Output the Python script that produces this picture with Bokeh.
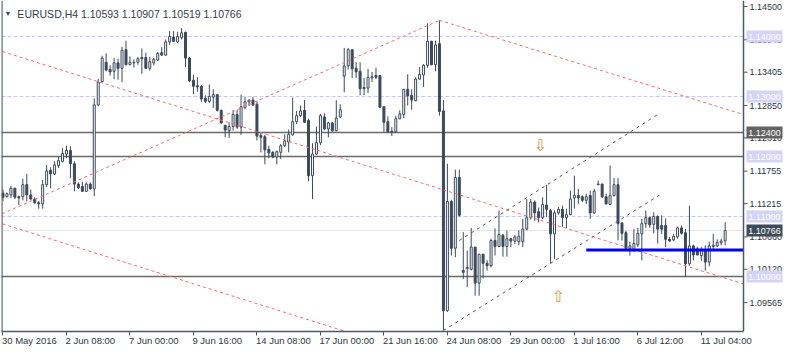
from bokeh.plotting import figure
from bokeh.models import Range1d, FixedTicker, Span, Label, ColumnDataSource
from bokeh.embed import file_html
from bokeh.resources import INLINE
from bokeh.core.properties import value

# ---------------- data (EURUSD H4, bar index 0 = 30 May 2016 16:00) ----------------
opens = [1.1139,1.1133,1.1136,1.1147,1.1133,1.1133,1.1153,1.1136,1.1129,1.1123,
         1.1121,1.1153,1.1177,1.1171,1.1185,1.1192,1.1204,1.1210,1.1188,1.1154,
         1.1150,1.1142,1.1154,1.1146,1.1286,1.1325,1.1357,1.1345,1.1342,1.1356,
         1.1347,1.1378,1.1353,1.1356,1.1357,1.1365,1.1365,1.1347,1.1356,1.1361,
         1.1373,1.1369,1.1391,1.1399,1.1391,1.1398,1.1407,1.1364,1.1327,1.1318,
         1.1317,1.1297,1.1292,1.1299,1.1303,1.1277,1.1252,1.1243,1.1250,1.1270,
         1.1249,1.1282,1.1291,1.1294,1.1287,1.1235,1.1233,1.1212,1.1207,1.1199,
         1.1207,1.1218,1.1224,1.1236,1.1258,1.1268,1.1277,1.1260,1.1168,1.1204,
         1.1223,1.1266,1.1246,1.1256,1.1243,1.1266,1.1334,1.1351,1.1378,1.1347,
         1.1342,1.1315,1.1314,1.1331,1.1335,1.1335,1.1283,1.1258,1.1242,1.1241,
         1.1263,1.1270,1.1312,1.1302,1.1293,1.1329,1.1336,1.1352,1.1392,1.1353,
         1.1388,1.1276,1.0943,1.1125,1.1047,1.1165,1.1010,1.1013,1.1012,1.1049,
         1.0989,1.1037,1.1022,1.1018,1.1060,1.1050,1.1069,1.1050,1.1063,1.1059,
         1.1058,1.1058,1.1079,1.1098,1.1124,1.1108,1.1098,1.1119,1.1110,1.1071,
         1.1106,1.1112,1.1098,1.1103,1.1131,1.1135,1.1133,1.1127,1.1135,1.1106,
         1.1153,1.1154,1.1133,1.1120,1.1135,1.1153,1.1089,1.1073,1.1047,1.1043,
         1.1053,1.1071,1.1088,1.1098,1.1087,1.1100,1.1085,1.1085,1.1062,1.1061,
         1.1066,1.1081,1.1073,1.1021,1.1051,1.1046,1.1035,1.1045,1.1024,1.1050,
         1.1051,1.1056,1.10593]
highs = [1.1145,1.1140,1.1151,1.1148,1.1135,1.1163,1.1171,1.1145,1.1132,1.1126,
         1.1161,1.1186,1.1182,1.1192,1.1199,1.1214,1.1218,1.1217,1.1192,1.1157,
         1.1158,1.1157,1.1157,1.1297,1.1329,1.1368,1.1372,1.1352,1.1364,1.1363,
         1.1383,1.1393,1.1367,1.1362,1.1366,1.1380,1.1373,1.1366,1.1364,1.1374,
         1.1382,1.1395,1.1409,1.1409,1.1408,1.1414,1.1408,1.1366,1.1336,1.1332,
         1.1319,1.1302,1.1320,1.1312,1.1304,1.1278,1.1252,1.1257,1.1277,1.1278,
         1.1303,1.1299,1.1295,1.1299,1.1292,1.1241,1.1236,1.1218,1.1209,1.1210,
         1.1221,1.1237,1.1245,1.1298,1.1276,1.1285,1.1294,1.1263,1.1222,1.1250,
         1.1271,1.1272,1.1258,1.1257,1.1294,1.1287,1.1381,1.1381,1.1378,1.1357,
         1.1357,1.1331,1.1346,1.1341,1.1348,1.1336,1.1283,1.1267,1.1249,1.1268,
         1.1277,1.1312,1.1337,1.1312,1.1332,1.1349,1.1354,1.1422,1.1393,1.1393,
         1.1427,1.1294,1.1188,1.1128,1.1178,1.1178,1.1074,1.1043,1.1081,1.1049,
         1.1038,1.1038,1.1027,1.1063,1.1080,1.1110,1.1071,1.1077,1.1064,1.1069,
         1.1077,1.1096,1.1129,1.1129,1.1127,1.1115,1.1132,1.1153,1.1113,1.1110,
         1.1116,1.1118,1.1113,1.1143,1.1168,1.1146,1.1135,1.1138,1.1143,1.1146,
         1.1160,1.1155,1.1138,1.1185,1.1164,1.1164,1.1091,1.1076,1.1058,1.1079,
         1.1081,1.1096,1.1110,1.1100,1.1107,1.1102,1.1102,1.1097,1.1066,1.1071,
         1.1083,1.1085,1.1079,1.1118,1.1053,1.1050,1.1049,1.1052,1.1058,1.1071,
         1.1062,1.1063,1.10907]
lows = [1.1126,1.1132,1.1131,1.1129,1.1119,1.1127,1.1125,1.1128,1.1121,1.1113,
        1.1113,1.1149,1.1147,1.1169,1.1181,1.1190,1.1197,1.1164,1.1142,1.1146,
        1.1141,1.1141,1.1145,1.1134,1.1284,1.1323,1.1342,1.1335,1.1329,1.1328,
        1.1324,1.1352,1.1352,1.1348,1.1353,1.1338,1.1346,1.1343,1.1352,1.1359,
        1.1368,1.1368,1.1386,1.1391,1.1389,1.1395,1.1349,1.1324,1.1304,1.1308,
        1.1291,1.1289,1.1289,1.1281,1.1275,1.1254,1.1232,1.1231,1.1243,1.1246,
        1.1236,1.1279,1.1284,1.1284,1.1227,1.1207,1.1187,1.1197,1.1197,1.1187,
        1.1196,1.1216,1.1207,1.1235,1.1254,1.1266,1.1256,1.1159,1.1129,1.1203,
        1.1219,1.1244,1.1232,1.1241,1.1242,1.1264,1.1307,1.1345,1.1331,1.1331,
        1.1302,1.1302,1.1306,1.1324,1.1329,1.1281,1.1241,1.1240,1.1234,1.1240,
        1.1262,1.1264,1.1285,1.1278,1.1292,1.1328,1.1316,1.1348,1.1352,1.1342,
        1.1268,1.0910,1.0941,1.1035,1.1032,1.1100,1.0996,1.0982,1.1010,1.0968,
        1.0968,1.0997,1.1010,1.1015,1.1035,1.1049,1.1033,1.1033,1.1049,1.1054,
        1.1052,1.1049,1.1077,1.1095,1.1093,1.1090,1.1096,1.1099,1.1022,1.1029,
        1.1103,1.1083,1.1081,1.1102,1.1113,1.1121,1.1124,1.1121,1.1096,1.1104,
        1.1152,1.1131,1.1120,1.1120,1.1133,1.1060,1.1060,1.1046,1.1035,1.1041,
        1.1049,1.1027,1.1081,1.1081,1.1072,1.1055,1.1071,1.1049,1.1058,1.1059,
        1.1063,1.1070,1.0999,1.1018,1.1027,1.1035,1.1026,1.1010,1.1017,1.1046,
        1.1049,1.1052,1.10519]
closes = [1.1132,1.1138,1.1147,1.1132,1.1131,1.1153,1.1136,1.1129,1.1123,1.1121,
          1.1153,1.1176,1.1171,1.1186,1.1193,1.1205,1.1210,1.1188,1.1154,1.1148,
          1.1142,1.1154,1.1146,1.1286,1.1324,1.1364,1.1344,1.1341,1.1356,1.1347,
          1.1377,1.1353,1.1357,1.1357,1.1363,1.1363,1.1347,1.1358,1.1362,1.1372,
          1.1369,1.1391,1.1400,1.1392,1.1400,1.1406,1.1364,1.1326,1.1317,1.1316,
          1.1296,1.1292,1.1300,1.1303,1.1277,1.1256,1.1244,1.1250,1.1270,1.1249,
          1.1283,1.1291,1.1294,1.1286,1.1234,1.1232,1.1211,1.1206,1.1199,1.1208,
          1.1218,1.1226,1.1237,1.1258,1.1268,1.1276,1.1257,1.1168,1.1204,1.1223,
          1.1268,1.1246,1.1256,1.1243,1.1264,1.1278,1.1351,1.1378,1.1346,1.1341,
          1.1313,1.1313,1.1332,1.1333,1.1332,1.1282,1.1257,1.1241,1.1241,1.1263,
          1.1271,1.1312,1.1301,1.1294,1.1329,1.1337,1.1352,1.1392,1.1353,1.1386,
          1.1275,1.0943,1.1125,1.1047,1.1165,1.1102,1.1007,1.1015,1.1049,1.0989,
          1.1037,1.1022,1.1018,1.1060,1.1050,1.1070,1.1050,1.1063,1.1059,1.1066,
          1.1067,1.1079,1.1098,1.1124,1.1106,1.1098,1.1120,1.1112,1.1071,1.1106,
          1.1112,1.1098,1.1103,1.1129,1.1135,1.1131,1.1127,1.1133,1.1106,1.1142,
          1.1154,1.1133,1.1121,1.1135,1.1153,1.1088,1.1072,1.1047,1.1051,1.1055,
          1.1072,1.1088,1.1098,1.1086,1.1100,1.1079,1.1079,1.1062,1.1059,1.1067,
          1.1081,1.1072,1.1021,1.1051,1.1036,1.1036,1.1045,1.1024,1.1051,1.1052,
          1.1057,1.1059,1.10766]

time_tick_bars = [0, 16, 32, 48, 64, 80, 96, 112, 128, 144, 160, 176]
time_tick_labels = ["30 May 2016", "2 Jun 08:00", "7 Jun 00:00", "9 Jun 16:00", "14 Jun 08:00",
                    "17 Jun 00:00", "21 Jun 16:00", "24 Jun 08:00", "29 Jun 00:00", "1 Jul 16:00",
                    "6 Jul 12:00", "11 Jul 04:00"]
price_ticks = [1.14500, 1.13945, 1.13405, 1.12850, 1.12310, 1.11755, 1.11215, 1.10660, 1.10120, 1.09565]

round_levels = [1.14, 1.13, 1.12, 1.11, 1.10, 1.09]          # dashed grid levels
sr_levels = [1.124, 1.12, 1.10]                              # solid support/resistance
last_price = 1.10766
blue_level = (147, 1.1044)                                   # start bar, price
red_trend = [((0, 1.13746), (180, 1.10013), -3, None),        # anchors, draw from, to (None = scale edge)
             ((0, 1.11051), (110, 1.1427), -3, 110),
             ((110, 1.1427), (180, 1.12835), 110, None),
             ((0, 1.10875), (100, 1.0880), -3, 120)]
black_channel = [((115, 1.1060), (165.5, 1.1272)),
                 ((111, 1.0910), (166, 1.1138))]
arrow_down = (135.4, 1.1218)
arrow_up = (139.9, 1.0967)
title_text = "EURUSD,H4  1.10593 1.10907 1.10519 1.10766"

# ---------------- layout constants ----------------
DARK = "#3d4a5b"
AXIS = "#505a66"
LBL = "#2e3742"
FONT = "Liberation Sans"
CANVAS_W = 784
CHART_PX = 742                 # chart area width (canvas 1 .. 743)
FRAME_H = 331
X0 = -0.375                    # left edge of chart area
XAX = 186.625                  # position of price scale line
PX_PER_BAR = CHART_PX / (XAX - X0)
X1 = XAX + (CANVAS_W - 1 - CHART_PX) / PX_PER_BAR
Y0, Y1 = 1.146 - FRAME_H / 6000.0, 1.146
CHAR_W = {' ': 278, ':': 278, '.': 278, 'J': 500, 'M': 833, 'y': 500, 'l': 222}

def text_w(s, size):
    return sum(CHAR_W.get(ch, 556) for ch in s) * size / 1000.0

def px(n):  # screen pixels -> bar units
    return n / PX_PER_BAR

p = figure(frame_width=CANVAS_W - 1, frame_height=FRAME_H, output_backend="svg",
           toolbar_location=None, x_range=Range1d(X0, X1), y_range=Range1d(Y0, Y1),
           y_axis_location=None, min_border_left=1, min_border_top=0,
           min_border_right=0, min_border_bottom=0)
p.outline_line_color = None
p.xgrid.visible = False
p.ygrid.visible = False
p.background_fill_color = "white"
p.border_fill_color = "white"

# x axis: labels start at the tick (label anchor shifted right by half its width)
label_pos = [round(b + px(text_w(t, 9.5) / 2 - 1), 3) for b, t in zip(time_tick_bars, time_tick_labels)]
xa = p.xaxis[0]
xa.ticker = FixedTicker(ticks=label_pos, minor_ticks=time_tick_bars)
xa.major_label_overrides = {pos: t for pos, t in zip(label_pos, time_tick_labels)}
xa.bounds = (X0, XAX)
xa.major_label_text_font = FONT
xa.major_label_text_font_size = "9.5px"
xa.major_label_text_color = LBL
xa.major_label_standoff = -1
xa.major_tick_line_color = None
xa.major_tick_out = 0
xa.major_tick_in = 0
xa.minor_tick_out = 4
xa.minor_tick_in = 0
xa.minor_tick_line_color = AXIS
xa.minor_tick_line_width = 1
xa.axis_line_color = AXIS
xa.axis_line_width = 1.5

# frame lines (left border and price scale line)
p.add_layout(Span(location=X0 + 0.1, dimension="height", line_color=AXIS, line_width=1.5))
p.add_layout(Span(location=XAX, dimension="height", line_color=AXIS, line_width=1.5))

# level lines (only across the chart area)
for lv in round_levels:
    p.segment(x0=[X0], y0=[lv], x1=[XAX], y1=[lv], line_color="#c9c9f2",
              line_width=1, line_dash="4 2", level="underlay")
p.segment(x0=[X0], y0=[last_price], x1=[XAX], y1=[last_price], line_color="#e6e6e6",
          line_width=1, level="underlay")
for lv in sr_levels:
    p.segment(x0=[X0], y0=[lv], x1=[XAX], y1=[lv], line_color="#6a6a6a",
              line_width=1.6, level="underlay")

# candles
n = len(opens)
idx = list(range(n))
src = ColumnDataSource(dict(
    x=idx, high=highs, low=lows,
    top=[max(o, c) for o, c in zip(opens, closes)],
    bottom=[min(o, c) for o, c in zip(opens, closes)],
    fill=[DARK if c < o else "white" for o, c in zip(opens, closes)],
))
p.segment(x0="x", y0="low", x1="x", y1="high", source=src, line_color=DARK, line_width=1)
p.vbar(x="x", width=0.5, top="top", bottom="bottom", fill_color="fill",
       line_color=DARK, line_width=1, source=src)

# trend lines
def extend(a, b, x0, x1):
    (xa_, ya_), (xb, yb) = a, b
    k = (yb - ya_) / (xb - xa_)
    return [x0, x1], [ya_ + k * (x0 - xa_), ya_ + k * (x1 - xa_)]

for a, b, x0, x1 in red_trend:
    xs, ys = extend(a, b, x0, XAX if x1 is None else x1)
    p.line(xs, ys, line_color="#ee7070", line_width=1, line_dash="3 3")
for a, b in black_channel:
    p.line([a[0], b[0]], [a[1], b[1]], line_color="#555555", line_width=1, line_dash="3 4")

p.line([blue_level[0], XAX], [blue_level[1], blue_level[1]], line_color="#0000ff", line_width=3)

# arrows
for (ax, ay), ch in ((arrow_down, "⇩"), (arrow_up, "⇧")):
    p.text(x=[ax], y=[ay], text=[ch], text_color="#e0944a",
           text_font=value("DejaVu Sans"), text_font_size="16px",
           text_align="center", text_baseline="middle")

# title
p.add_layout(Label(x=0.375, y=1.1445, text="▼", text_font_size="7px", text_color=DARK,
                   text_baseline="top", text_font=FONT))
p.add_layout(Label(x=3.625, y=1.14483, text=title_text, text_font_size="10.5px",
                   text_color="#34404e", text_baseline="top", text_font=FONT))

# price scale: ticks and labels
p.segment(x0=[XAX] * len(price_ticks), y0=price_ticks, x1=[XAX + px(4)] * len(price_ticks),
          y1=price_ticks, line_color=AXIS, line_width=1)
p.text(x=[XAX + px(6)] * len(price_ticks), y=price_ticks, text=[f"{v:.5f}" for v in price_ticks],
       text_font=value(FONT), text_font_size="9px", text_color=LBL,
       text_align="left", text_baseline="middle")

# price boxes on the scale
boxes = [(lv, "#d4d4f6") for lv in round_levels if lv > Y0 + 0.0005] + \
        [(1.124, "#626262"), (last_price, "#3e4a58")]
bx = XAX + px(21)
p.rect(x=[bx] * len(boxes), y=[b[0] for b in boxes], width=36, height=12,
       width_units="screen", height_units="screen", fill_color=[b[1] for b in boxes],
       line_color=None)
p.text(x=[bx] * len(boxes), y=[b[0] for b in boxes], text=[f"{b[0]:.5f}" for b in boxes],
       text_font=value(FONT), text_font_size="9px", text_color="white",
       text_align="center", text_baseline="middle")

open("out.html", "w").write(file_html(p, INLINE))
